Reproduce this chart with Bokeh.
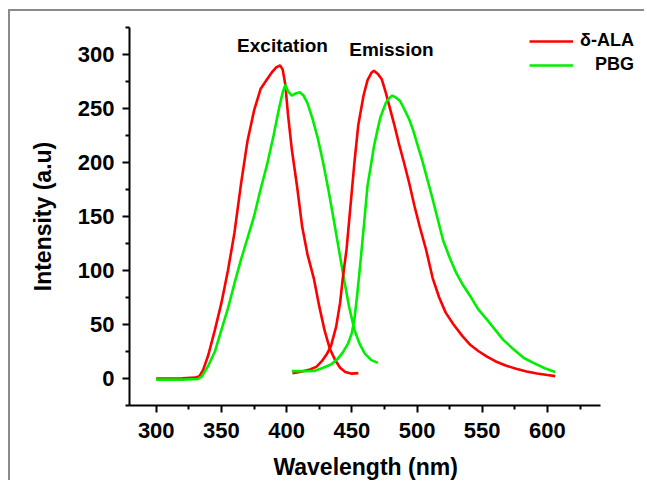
from bokeh.plotting import figure
from bokeh.models import (Range1d, FixedTicker, Legend, LegendItem)
from bokeh.core.properties import value
from bokeh.embed import file_html
from bokeh.resources import INLINE

# ---------------- data ----------------
ala_ex_x = [300, 310, 320, 330, 333, 336, 340, 345, 350, 355, 360, 365, 370, 375, 380, 385, 389, 392, 395,
            397, 399, 401, 404, 408, 412, 416, 421, 425, 429, 433, 437, 441, 445, 450, 455]
ala_ex_y = [0, 0, 0.3, 0.8, 2, 8, 22, 45, 70, 100, 135, 180, 220, 248, 268, 277, 284, 288, 290,
            286, 272, 245, 212, 178, 140, 115, 92, 67, 45, 28, 17.6, 10, 6, 4.5, 5]

pbg_ex_x = [300, 320, 332, 335, 340, 345, 350, 355, 360, 365, 370, 375, 380, 385, 390, 394, 397, 399,
            401, 404, 407, 410, 413, 416, 420, 424, 428, 432, 436, 440, 444, 448, 452, 456, 460, 465, 470]
pbg_ex_y = [-1, -1, -0.5, 2, 12, 25, 45, 65, 88, 110, 130, 150, 175, 198, 225, 249, 265, 272,
            266, 262, 264, 265, 262, 255, 240, 222, 200, 175, 148, 120, 92, 66, 45, 32, 23, 17, 14.5]

ala_em_x = [404.5, 410, 418, 423, 427, 431, 434, 438, 441, 443, 446, 449, 452, 455, 459, 462, 465, 467,
            470, 473, 476, 479.5, 483, 486, 490, 494, 498, 502, 507, 512, 517, 522, 528, 535, 541, 547.5,
            554, 560, 568, 576, 584, 592, 600, 606]
ala_em_y = [5, 6, 8.3, 11, 16, 23, 30, 48, 70, 92, 120, 160, 200, 235, 262, 276, 283, 285,
            282, 277, 265, 249, 233, 218, 200, 181, 160, 141, 119, 93, 75, 61, 50, 39, 31, 25,
            20, 16, 12, 9, 6.5, 4.6, 3.2, 2.2]

pbg_em_x = [404, 410, 415, 421, 427, 434, 439, 443, 447, 450, 452, 454, 456, 459, 462, 465, 467, 470,
            472, 476, 479, 481, 484, 487, 490, 494, 497, 500, 504, 508, 512, 516, 520, 525, 530, 535,
            541, 547, 554, 560, 566, 574, 582, 590, 598, 606]
pbg_em_y = [6.8, 6.8, 6.8, 7, 9.5, 13, 18, 24, 32, 42, 55, 76, 100, 138, 178, 200, 215, 232,
            242, 255, 260, 262, 260, 257, 250, 240, 230, 218, 202, 184, 166, 147, 128, 112, 98, 87,
            76, 64, 54, 45, 36, 27, 19, 14, 9.5, 6]

series_labels = ["\u03b4-ALA", "\u00a0\u00a0\u00a0PBG"]
series_colors = ["#ff0000", "#00ee00"]

note_labels = ["Excitation", "Emission"]
note_x = [362, 448]
note_y = [308, 305]

# trailing no-break spaces shift the centred title left, under the drawn axis line
x_title = "Wavelength (nm)" + "\u00a0" * 7
y_title = "Intensity (a.u)"

x_ticks = [300, 350, 400, 450, 500, 550, 600]
x_minor = [325, 375, 425, 475, 525, 575, 625]
y_ticks = [0, 50, 100, 150, 200, 250, 300]
y_minor = [-25, 25, 75, 125, 175, 225, 275, 325]

FONT = "Liberation Sans"

p = figure(width=636, height=471, output_backend="svg", toolbar_location=None,
           x_range=Range1d(279.5, 676.0), y_range=Range1d(-25, 325),
           min_border_left=119, min_border_right=0, min_border_top=16, min_border_bottom=77)
p.styles = {"margin-left": "8px", "margin-top": "9px",
            "border-left": "2px solid #8a8a8a", "border-top": "2px solid #8a8a8a"}
p.outline_line_color = None
p.grid.visible = False
p.background_fill_color = "white"
p.border_fill_color = "white"

r1 = p.line(ala_ex_x, ala_ex_y, line_color=series_colors[0], line_width=2.6)
r2 = p.line(pbg_ex_x, pbg_ex_y, line_color=series_colors[1], line_width=2.6)
r3 = p.line(ala_em_x, ala_em_y, line_color=series_colors[0], line_width=2.6)
r4 = p.line(pbg_em_x, pbg_em_y, line_color=series_colors[1], line_width=2.6)

p.text(x=note_x, y=note_y, text=note_labels, text_font=value(FONT), text_font_style="bold",
       text_font_size="19px", text_color="black", text_align="left", text_baseline="alphabetic")

for ax in (p.xaxis[0], p.yaxis[0]):
    ax.axis_line_width = 2
    ax.axis_line_color = "black"
    ax.major_tick_line_width = 2
    ax.minor_tick_line_width = 2
    ax.major_tick_out = 7
    ax.major_tick_in = 0
    ax.minor_tick_out = 4
    ax.minor_tick_in = 0
    ax.major_label_text_font = FONT
    ax.major_label_text_font_style = "bold"
    ax.major_label_text_font_size = "22px"
    ax.major_label_text_color = "black"
    ax.axis_label_text_font = FONT
    ax.axis_label_text_font_style = "bold"
    ax.axis_label_text_font_size = "23px"
    ax.axis_label_text_color = "black"

p.xaxis.ticker = FixedTicker(ticks=x_ticks, minor_ticks=x_minor)
p.yaxis.ticker = FixedTicker(ticks=y_ticks, minor_ticks=y_minor)
p.xaxis.bounds = (279.5, 640.6)
p.xaxis.axis_label = x_title
p.yaxis.axis_label = y_title
p.xaxis.major_label_standoff = 10
p.xaxis.axis_label_standoff = 13
p.yaxis.major_label_standoff = 8
p.yaxis.axis_label_standoff = 19

legend = Legend(items=[LegendItem(label=series_labels[0], renderers=[r1]),
                       LegendItem(label=series_labels[1], renderers=[r2])],
                location=(400, 330), orientation="vertical")
legend.label_text_font = FONT
legend.label_text_font_style = "bold"
legend.label_text_font_size = "18px"
legend.label_text_color = "black"
legend.glyph_width = 44
legend.glyph_height = 20
legend.label_height = 20
legend.label_standoff = 7
legend.spacing = 3
legend.padding = 0
legend.margin = 0
legend.border_line_color = None
legend.background_fill_alpha = 0
p.add_layout(legend, "center")

open("out.html", "w").write(file_html(p, INLINE))
